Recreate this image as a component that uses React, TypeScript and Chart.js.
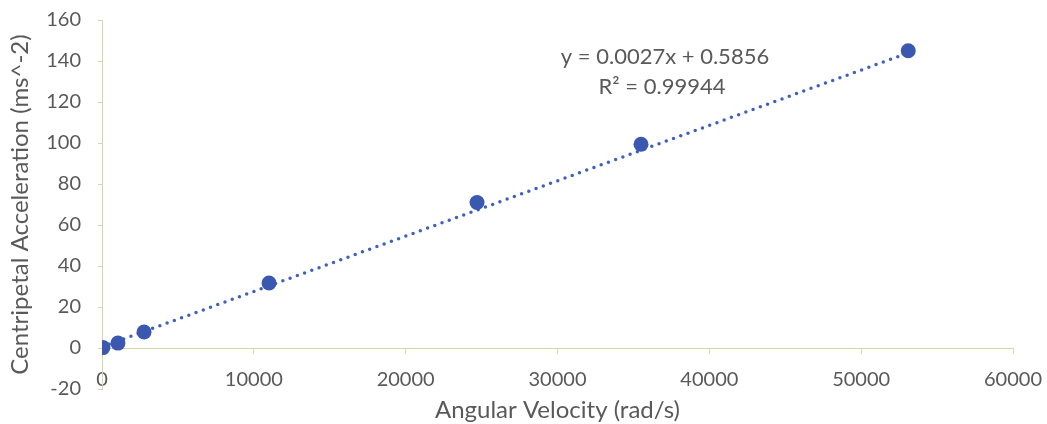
import React, { useEffect, useRef } from "react";
import { Chart, registerables } from "chart.js";

Chart.register(...registerables);

const angularVelocity = [60, 1050, 2770, 11000, 24700, 35500, 53100];
const acceleration = [0.2, 2.4, 7.8, 31.7, 71.0, 99.4, 145.0];
const trendX = [0, 53100];
const trendY = [0.5856, 143.96];
const equationLines = ["y = 0.0027x + 0.5856", "R\u00B2 = 0.99944"];
const xTitle = "Angular Velocity (rad/s)";
const yTitle = "Centripetal Acceleration (ms^-2)";

const FONT = "Lato, 'Open Sans', sans-serif";
const TEXT = "#595959";
const AXIS = "#d6d6a6";
const BLUE = "#3a58b0";

const equationPlugin = {
  id: "equation",
  afterDatasetsDraw(chart: any) {
    const { ctx, scales } = chart;
    const cx = scales.x.getPixelForValue(37080);
    const y1 = scales.y.getPixelForValue(142);
    ctx.save();
    ctx.fillStyle = TEXT;
    ctx.font = `22px ${FONT}`;
    ctx.textAlign = "center";
    ctx.textBaseline = "middle";
    ctx.fillText(equationLines[0], cx, y1);
    ctx.fillText(equationLines[1], cx - 3, y1 + 30);
    ctx.restore();
  },
};

export default function App() {
  const ref = useRef<HTMLCanvasElement>(null);
  useEffect(() => {
    if (!ref.current) return;
    const chart = new Chart(ref.current, {
      type: "scatter",
      data: {
        datasets: [
          {
            label: "trend",
            data: trendX.map((x, i) => ({ x, y: trendY[i] })),
            showLine: true,
            pointRadius: 0,
            borderColor: "#4060c0",
            borderWidth: 3.5,
            borderDash: [0, 7.7],
            borderCapStyle: "round",
            fill: false,
            order: 2,
          },
          {
            label: "data",
            data: angularVelocity.map((x, i) => ({ x, y: acceleration[i] })),
            pointRadius: 7.5,
            pointBackgroundColor: BLUE,
            pointBorderColor: BLUE,
            pointBorderWidth: 0,
            order: 1,
          },
        ],
      },
      options: {
        responsive: false,
        animation: false,
        layout: { padding: { left: 0, right: 34, top: 20, bottom: 35 } },
        plugins: { legend: { display: false }, tooltip: { enabled: false } },
        scales: {
          x: {
            type: "linear",
            position: { y: 0 } as any,
            min: 0,
            max: 60000,
            afterFit: (s: any) => {
              s.height = 81;
              s.paddingLeft = 0;
              s.paddingRight = 0;
              s.paddingTop = 0;
              s.paddingBottom = 0;
            },
            ticks: {
              stepSize: 10000,
              color: TEXT,
              font: { family: FONT, size: 20 },
              padding: 15,
              maxRotation: 0,
              callback: (v: any) => String(v),
            },
            grid: {
              drawOnChartArea: false,
              color: "rgba(0,0,0,0)",
              tickColor: AXIS,
              tickLength: 5,
            },
            border: { display: true, color: AXIS, width: 1 },
            title: {
              display: true,
              text: xTitle,
              color: TEXT,
              font: { family: FONT, size: 24 },
              padding: { top: 0, bottom: 4 },
            },
          },
          y: {
            type: "linear",
            position: "left",
            min: -20,
            max: 160,
            afterFit: (s: any) => {
              s.width = 102;
              s.paddingLeft = 0;
              s.paddingRight = 0;
              s.paddingTop = 0;
              s.paddingBottom = 0;
            },
            ticks: {
              stepSize: 20,
              color: TEXT,
              font: { family: FONT, size: 20 },
              padding: 17,
            },
            grid: {
              drawOnChartArea: false,
              color: "rgba(0,0,0,0)",
              tickColor: AXIS,
              tickLength: 4,
            },
            border: { display: true, color: AXIS, width: 1 },
            title: {
              display: true,
              text: yTitle,
              color: TEXT,
              font: { family: FONT, size: 24 },
              padding: { top: 6, bottom: 0 },
            },
          },
        },
      },
      plugins: [equationPlugin],
    } as any);
    return () => chart.destroy();
  }, []);
  return (
    <div style={{ position: "fixed", left: 0, top: 0, width: 1047, height: 424, background: "#fff" }}>
      <canvas ref={ref} width={1047} height={424} style={{ width: 1047, height: 424 }} />
    </div>
  );
}
